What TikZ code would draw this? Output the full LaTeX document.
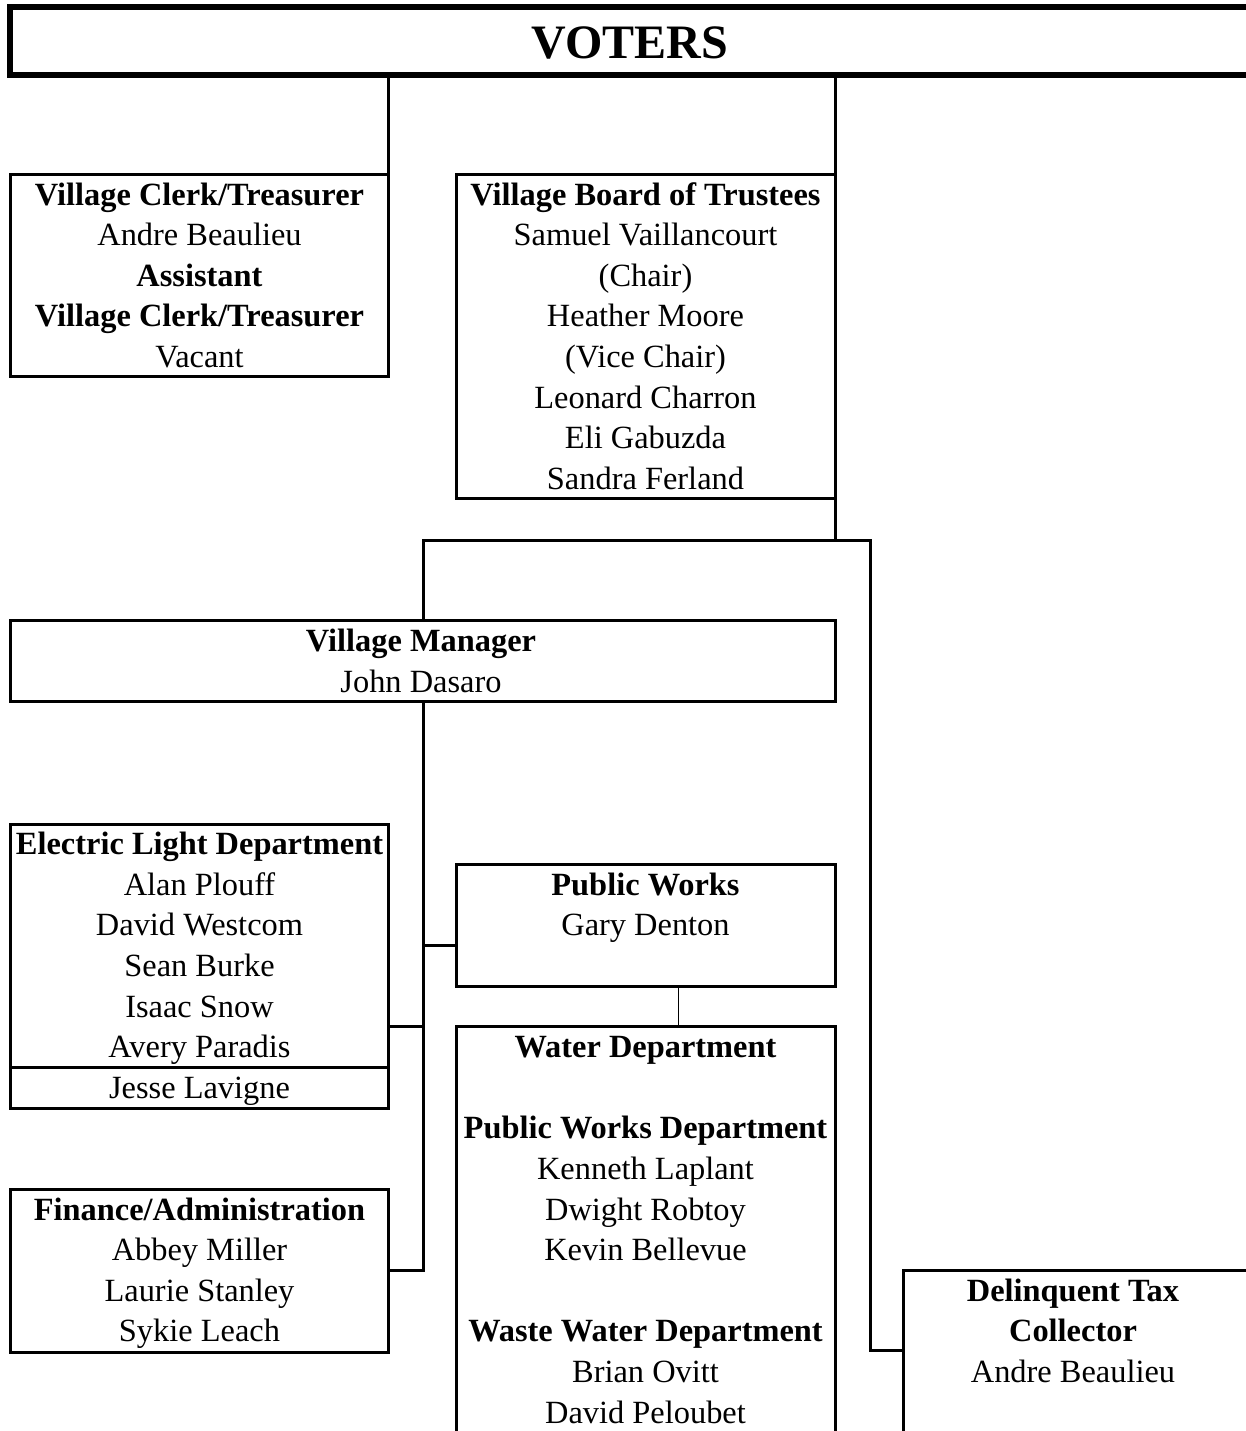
\documentclass[tikz,border=0pt]{standalone}
\usepackage{fontspec}
\setmainfont{Liberation Serif}
\tikzset{
  boxst/.style={draw=black, line width=1.5pt, inner sep=0pt, outer sep=0pt, anchor=north west, fill=none},
  txt/.style={anchor=base, inner sep=0pt, outer sep=0pt, font=\fontsize{16.2}{19}\selectfont},
  conn/.style={draw=black, line width=1.5pt},
  thinconn/.style={draw=black, line width=0.5pt}
}
\newcommand\rowtxt[4]{\node[txt] (#1) at (#2,{205+40.6*#3}) {#4};}
\begin{document}
\begin{tikzpicture}[x=0.5pt,y=-0.5pt]
\path[use as bounding box, clip] (0,0) rectangle (1246,1431);
\fill[white] (0,0) rectangle (1246,1431);

% boxes
\node[boxst, line width=3pt, minimum width=622.5pt, minimum height=34pt] (voters) at (10,6.5) {};
\node[anchor=base, inner sep=0pt, font=\fontsize{24}{28}\selectfont\bfseries] (voterst) at (630,58) {VOTERS};

\node[boxst, minimum width=189pt, minimum height=101pt] (clerk) at (10.5,174) {};
\node[boxst, minimum width=189.75pt, minimum height=162pt] (board) at (456,174) {};
\node[boxst, minimum width=412.5pt, minimum height=40.5pt] (mgr) at (10.5,620) {};
\node[boxst, minimum width=189pt, minimum height=121.5pt] (elec) at (10.5,824) {};
\node[boxst, minimum width=189pt, minimum height=20.5pt] (jesse) at (10.5,1067) {};
\node[boxst, minimum width=189.75pt, minimum height=61pt] (pw) at (456,864) {};
\node[boxst, minimum width=189.75pt, minimum height=217pt] (water) at (456,1026) {};
\node[boxst, minimum width=189pt, minimum height=81.5pt] (fin) at (10.5,1189) {};
\node[boxst, minimum width=173.5pt, minimum height=85pt] (delq) at (903,1270) {};

% texts
\rowtxt{c1}{199.5}{0}{\textbf{Village Clerk/Treasurer}}
\rowtxt{c2}{199.5}{1}{Andre Beaulieu}
\rowtxt{c3}{199.5}{2}{\textbf{Assistant}}
\rowtxt{c4}{199.5}{3}{\textbf{Village Clerk/Treasurer}}
\rowtxt{c5}{199.5}{4}{Vacant}

\rowtxt{b1}{645.5}{0}{\textbf{Village Board of Trustees}}
\rowtxt{b2}{645.5}{1}{Samuel Vaillancourt}
\rowtxt{b3}{645.5}{2}{(Chair)}
\rowtxt{b4}{645.5}{3}{Heather Moore}
\rowtxt{b5}{645.5}{4}{(Vice Chair)}
\rowtxt{b6}{645.5}{5}{Leonard Charron}
\rowtxt{b7}{645.5}{6}{Eli Gabuzda}
\rowtxt{b8}{645.5}{7}{Sandra Ferland}

\rowtxt{m1}{421}{11}{\textbf{Village Manager}}
\rowtxt{m2}{421}{12}{John Dasaro}

\rowtxt{e1}{199.5}{16}{\textbf{Electric Light Department}}
\rowtxt{e2}{199.5}{17}{Alan Plouff}
\rowtxt{e3}{199.5}{18}{David Westcom}
\rowtxt{e4}{199.5}{19}{Sean Burke}
\rowtxt{e5}{199.5}{20}{Isaac Snow}
\rowtxt{e6}{199.5}{21}{Avery Paradis}
\rowtxt{e7}{199.5}{22}{Jesse Lavigne}

\rowtxt{p1}{645.5}{17}{\textbf{Public Works}}
\rowtxt{p2}{645.5}{18}{Gary Denton}

\rowtxt{w1}{645.5}{21}{\textbf{Water Department}}
\rowtxt{w2}{645.5}{23}{\textbf{Public Works Department}}
\rowtxt{w3}{645.5}{24}{Kenneth Laplant}
\rowtxt{w4}{645.5}{25}{Dwight Robtoy}
\rowtxt{w5}{645.5}{26}{Kevin Bellevue}
\rowtxt{w6}{645.5}{28}{\textbf{Waste Water Department}}
\rowtxt{w7}{645.5}{29}{Brian Ovitt}
\rowtxt{w8}{645.5}{30}{David Peloubet}

\rowtxt{f1}{199.5}{25}{\textbf{Finance/Administration}}
\rowtxt{f2}{199.5}{26}{Abbey Miller}
\rowtxt{f3}{199.5}{27}{Laurie Stanley}
\rowtxt{f4}{199.5}{28}{Sykie Leach}

\rowtxt{d1}{1073}{27}{\textbf{Delinquent Tax}}
\rowtxt{d2}{1073}{28}{\textbf{Collector}}
\rowtxt{d3}{1073}{29}{Andre Beaulieu}

% connectors
\coordinate (j1) at (835.5,540);
\coordinate (jr) at (870,540);
\coordinate (dtin) at (903,1350);
\coordinate (ebr) at (388.5,1026);
\coordinate (pbr) at (456,945);
\coordinate (pwd) at (678,986);

\draw[conn] (clerk.north east |- voters.south) -- (clerk.north east);
\draw[conn] (board.north east |- voters.south) -- (board.north east);
\draw[conn] (board.south east) -- (j1);
\draw[conn] (mgr.north) |- (jr) -- (jr |- dtin) -- (dtin);
\draw[conn] (mgr.south) -- (mgr.south |- fin.east) -- (fin.east);
\draw[conn] (ebr) -- (ebr -| mgr.south);
\draw[conn] (pbr -| mgr.south) -- (pbr);
\draw[thinconn] (pwd) -- (pwd |- water.north);
\end{tikzpicture}
\end{document}
